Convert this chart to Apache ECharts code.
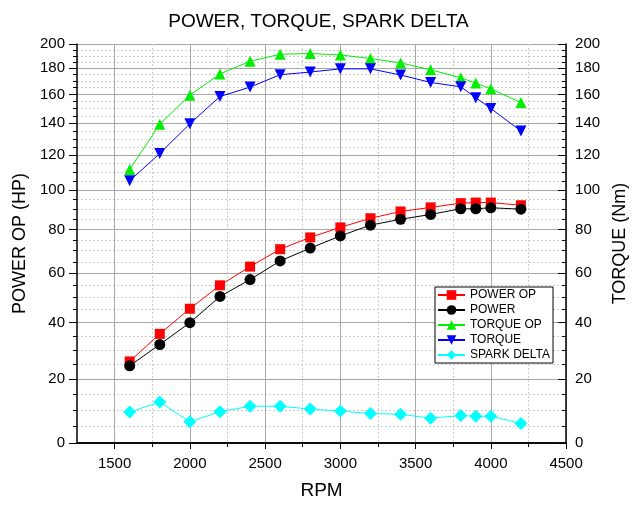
<!DOCTYPE html>
<html lang="en">
<head>
    <meta charset="UTF-8">
    <title>POWER, TORQUE, SPARK DELTA</title>
    <script src="https://cdn.jsdelivr.net/npm/echarts@6/dist/echarts.min.js"></script>
    <style>
        html, body {margin: 0; padding: 0; background: #fff;}
        #main {width: 637px; height: 506px;}
    </style>
</head>
<body>
<div id="main"></div>
<script type="text/javascript">
    // rpm values
    var rpm = [1600, 1800, 2000, 2200, 2400, 2600, 2800, 3000, 3200, 3400, 3600, 3800, 3900, 4000, 4200];
    var powerOp = [25.9, 35.8, 45.4, 54.9, 62.9, 70.7, 76.2, 81, 85.5, 88.9, 91, 93.2, 93.5, 93.5, 92.1];
    var power = [24.4, 31.9, 40, 50.3, 57.3, 65.4, 71.2, 76.9, 82.1, 85, 87.4, 90.3, 90.3, 90.8, 90.1];
    var torqueOp = [111.6, 139.4, 159.5, 175.4, 185.5, 191.3, 191.9, 190.7, 187.8, 184.2, 178.7, 172.5, 168.4, 164.1, 154.2];
    var torque = [105.2, 121, 139.7, 158.5, 165.4, 174.8, 176.9, 179.4, 179.4, 174.6, 168.9, 165.6, 157.7, 150, 135];
    var sparkDelta = [9.3, 12.4, 6.3, 9.4, 11.1, 11.1, 10.2, 9.6, 8.8, 8.6, 7.4, 8.2, 8.0, 8.0, 5.8];

    // axis ticks
    var xMajor = [1500, 2000, 2500, 3000, 3500, 4000, 4500];
    var xMinor = [1750, 2250, 2750, 3250, 3750, 4250];
    var yMajor = [0, 20, 40, 60, 80, 100, 120, 140, 160, 180, 200];
    var yMinor = [];
    for (var m = 5; m < 200; m += 5) {
        if (m % 20 !== 0) yMinor.push(m);
    }

    // the y scale is an offset reciprocal one: p = v / (v + offset)
    var SCALE_OFFSET = 275;
    function pos(v) { return v / (v + SCALE_OFFSET); }
    function unpos(p) { return SCALE_OFFSET * p / (1 - p); }

    var font = 'Liberation Sans, Arial, sans-serif';
    var yMax = pos(200);

    function pairs(ys) {
        var out = [];
        for (var i = 0; i < rpm.length; i++) out.push([rpm[i], pos(ys[i])]);
        return out;
    }

    function lineSeries(name, ys, color, symbol, size, rotate) {
        return {
            name: name,
            type: 'line',
            data: pairs(ys),
            symbol: symbol,
            symbolSize: size,
            symbolRotate: rotate || 0,
            itemStyle: {color: color},
            lineStyle: {color: color, width: 1},
            emphasis: {disabled: true},
            animation: false
        };
    }

    var blackLine = {show: true, lineStyle: {color: '#000', width: 1.5}};

    var option = {
        animation: false,
        title: {
            text: 'POWER, TORQUE, SPARK DELTA',
            left: 'center',
            top: 7,
            textStyle: {fontFamily: font, fontSize: 19, fontWeight: 'normal', color: '#000'}
        },
        legend: {
            orient: 'vertical',
            left: 435,
            top: 287,
            padding: [2, 3, 2, 2],
            itemWidth: 27,
            itemHeight: 12,
            itemGap: 3,
            borderColor: '#000',
            borderWidth: 1,
            backgroundColor: '#fff',
            textStyle: {fontFamily: font, fontSize: 12, color: '#000'},
            data: ['POWER OP', 'POWER', 'TORQUE OP', 'TORQUE', 'SPARK DELTA']
        },
        grid: {left: 77, right: 65, top: 44, bottom: 63},
        xAxis: [
            {
                type: 'value', position: 'bottom', min: 1250, max: 4500,
                name: 'RPM', nameLocation: 'middle', nameGap: 38,
                nameTextStyle: {fontFamily: font, fontSize: 19, color: '#000'},
                axisLine: blackLine,
                axisTick: {customValues: xMajor, length: 6, lineStyle: {color: '#000'}},
                axisLabel: {
                    customValues: xMajor, margin: 13, fontFamily: font, fontSize: 15, color: '#000',
                    formatter: function (v) { return String(v); }
                },
                splitLine: {show: true, lineStyle: {color: '#a8a8a8', width: 1}}
            },
            {
                type: 'value', position: 'bottom', min: 1250, max: 4500,
                axisLine: {show: false},
                axisTick: {customValues: xMinor, length: 4, lineStyle: {color: '#000'}},
                axisLabel: {show: false},
                splitLine: {show: true, lineStyle: {color: '#cccccc', width: 1, type: [2, 2]}}
            },
            {
                type: 'value', position: 'top', min: 1250, max: 4500,
                axisLine: blackLine,
                axisTick: {customValues: xMajor, inside: true, length: 6, lineStyle: {color: '#000'}},
                axisLabel: {show: false},
                splitLine: {show: false}
            },
            {
                type: 'value', position: 'top', min: 1250, max: 4500,
                axisLine: {show: false},
                axisTick: {customValues: xMinor, inside: true, length: 3, lineStyle: {color: '#000'}},
                axisLabel: {show: false},
                splitLine: {show: false}
            }
        ],
        yAxis: [
            {
                type: 'value', position: 'left', min: 0, max: yMax,
                name: 'POWER OP (HP)', nameLocation: 'middle', nameGap: 47,
                nameTextStyle: {fontFamily: font, fontSize: 18, color: '#000'},
                axisLine: blackLine,
                axisTick: {customValues: yMajor.map(pos), length: 8, lineStyle: {color: '#000'}},
                axisLabel: {
                    customValues: yMajor.map(pos), margin: 12, fontFamily: font, fontSize: 15, color: '#000',
                    formatter: function (p) { return Math.round(unpos(p)); }
                },
                splitLine: {show: true, lineStyle: {color: '#a8a8a8', width: 1}}
            },
            {
                type: 'value', position: 'left', min: 0, max: yMax,
                axisLine: {show: false},
                axisTick: {customValues: yMinor.map(pos), length: 4, lineStyle: {color: '#000'}},
                axisLabel: {show: false},
                splitLine: {show: true, lineStyle: {color: '#cccccc', width: 1, type: [2, 2]}}
            },
            {
                type: 'value', position: 'right', min: 0, max: yMax,
                name: 'TORQUE (Nm)', nameLocation: 'middle', nameGap: 44,
                nameTextStyle: {fontFamily: font, fontSize: 18, color: '#000'},
                axisLine: blackLine,
                axisTick: {customValues: yMajor.map(pos), inside: true, length: 8, lineStyle: {color: '#000'}},
                axisLabel: {
                    customValues: yMajor.map(pos), margin: 9, fontFamily: font, fontSize: 15, color: '#000',
                    formatter: function (p) { return Math.round(unpos(p)); }
                },
                splitLine: {show: false}
            },
            {
                type: 'value', position: 'right', min: 0, max: yMax,
                axisLine: {show: false},
                axisTick: {customValues: yMinor.map(pos), inside: true, length: 4, lineStyle: {color: '#000'}},
                axisLabel: {show: false},
                splitLine: {show: false}
            }
        ],
        series: [
            lineSeries('POWER OP', powerOp, '#ff0000', 'rect', 10),
            lineSeries('POWER', power, '#000000', 'circle', 11),
            lineSeries('TORQUE OP', torqueOp, '#00ee00', 'triangle', 11),
            lineSeries('TORQUE', torque, '#0000ff', 'triangle', 11, 180),
            lineSeries('SPARK DELTA', sparkDelta, '#00ffff', 'diamond', 13)
        ]
    };

    var myChart = echarts.init(document.getElementById('main'));
    myChart.setOption(option);
</script>
</body>
</html>
